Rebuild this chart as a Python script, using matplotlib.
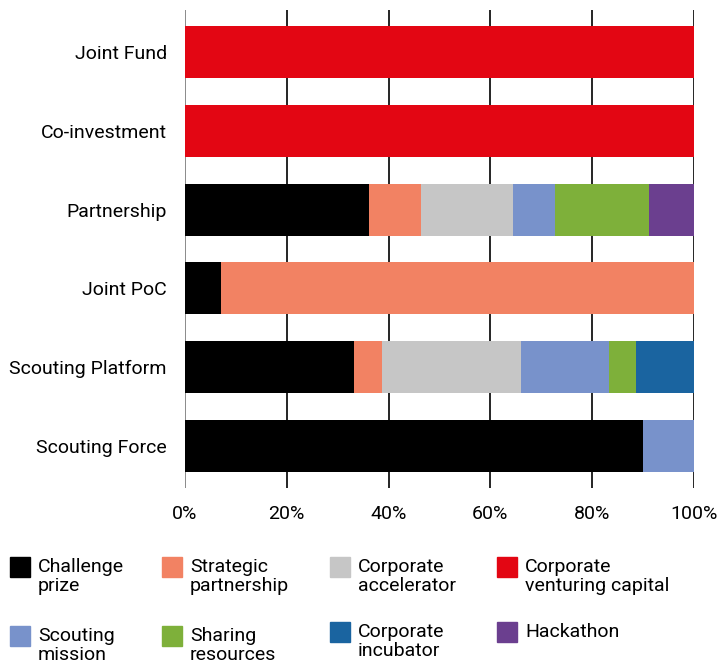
import numpy as np
import matplotlib.pyplot as plt
from matplotlib.patches import Rectangle

FONT = 'Roboto'
FS = 14
W, H = 719, 666

plt.rcParams['font.family'] = [FONT, 'DejaVu Sans']

# data (share of each approach, %)
rows = ['Joint Fund', 'Co-investment', 'Partnership', 'Joint PoC',
        'Scouting Platform', 'Scouting Force']
series = ['Challenge\nprize', 'Strategic\npartnership', 'Corporate\naccelerator',
          'Corporate\nventuring capital', 'Scouting\nmission', 'Sharing\nresources',
          'Corporate\nincubator', 'Hackathon']
colors = ['#000000', '#F28263', '#C6C6C6', '#E30613',
          '#7892CB', '#7EB03A', '#1A64A0', '#6B3F8F']

challenge_prize = [0, 0, 36.1, 7.0, 33.2, 90.0]
strategic_partnership = [0, 0, 10.3, 93.0, 5.5, 0]
corporate_accelerator = [0, 0, 18.0, 0, 27.3, 0]
corporate_venturing = [100, 100, 0, 0, 0, 0]
scouting_mission = [0, 0, 8.3, 0, 17.3, 10.0]
sharing_resources = [0, 0, 18.5, 0, 5.3, 0]
corporate_incubator = [0, 0, 0, 0, 11.4, 0]
hackathon = [0, 0, 8.8, 0, 0, 0]

values = [challenge_prize, strategic_partnership, corporate_accelerator,
          corporate_venturing, scouting_mission, sharing_resources,
          corporate_incubator, hackathon]
# stacking order along the bar
stack_order = [0, 1, 2, 4, 5, 6, 7, 3]

fig = plt.figure(figsize=(W / 100, H / 100), dpi=100)
ax = fig.add_axes([185 / W, 1 - 488 / H, 509 / W, 478 / H])

y = np.arange(len(rows))
left = np.zeros(len(rows))
for i in stack_order:
    v = np.array(values[i], dtype=float)
    ax.barh(y, v, left=left, height=0.66, color=colors[i], linewidth=0, zorder=2)
    left += v

ax.set_ylim(len(rows) - 0.47, -0.53)
ax.set_xlim(0, 100)
ax.set_yticks(y)
ax.set_yticklabels(rows, fontsize=FS)
xt = np.arange(0, 101, 20)
ax.set_xticks(xt)
ax.set_xticklabels([f'{t}%' for t in xt], fontsize=FS)
ax.tick_params(axis='both', length=0)
ax.tick_params(axis='x', pad=12)
ax.tick_params(axis='y', pad=13)
for s in ax.spines.values():
    s.set_visible(False)
for t in xt:
    ax.axvline(t, color='#777777' if t == 0 else 'black', lw=1.2, zorder=1)

# legend drawn by hand in a 4 x 2 grid
col_x = [10, 162, 330, 497]
row_top = [557, 626]
for k, i in enumerate([0, 1, 2, 3, 4, 5, 6, 7]):
    r, c = divmod(k, 4)
    x0 = col_x[c]
    top = row_top[r] - (4 if (r == 1 and c >= 2) else 0)
    fig.add_artist(Rectangle((x0 / W, 1 - (top + 20) / H), 20 / W, 20 / H,
                             transform=fig.transFigure, color=colors[i]))
    fig.text((x0 + 28) / W, 1 - (top + 1) / H, series[i], fontsize=FS,
             va='top', ha='left', linespacing=1.1)

fig.savefig('out.png', dpi=100)
